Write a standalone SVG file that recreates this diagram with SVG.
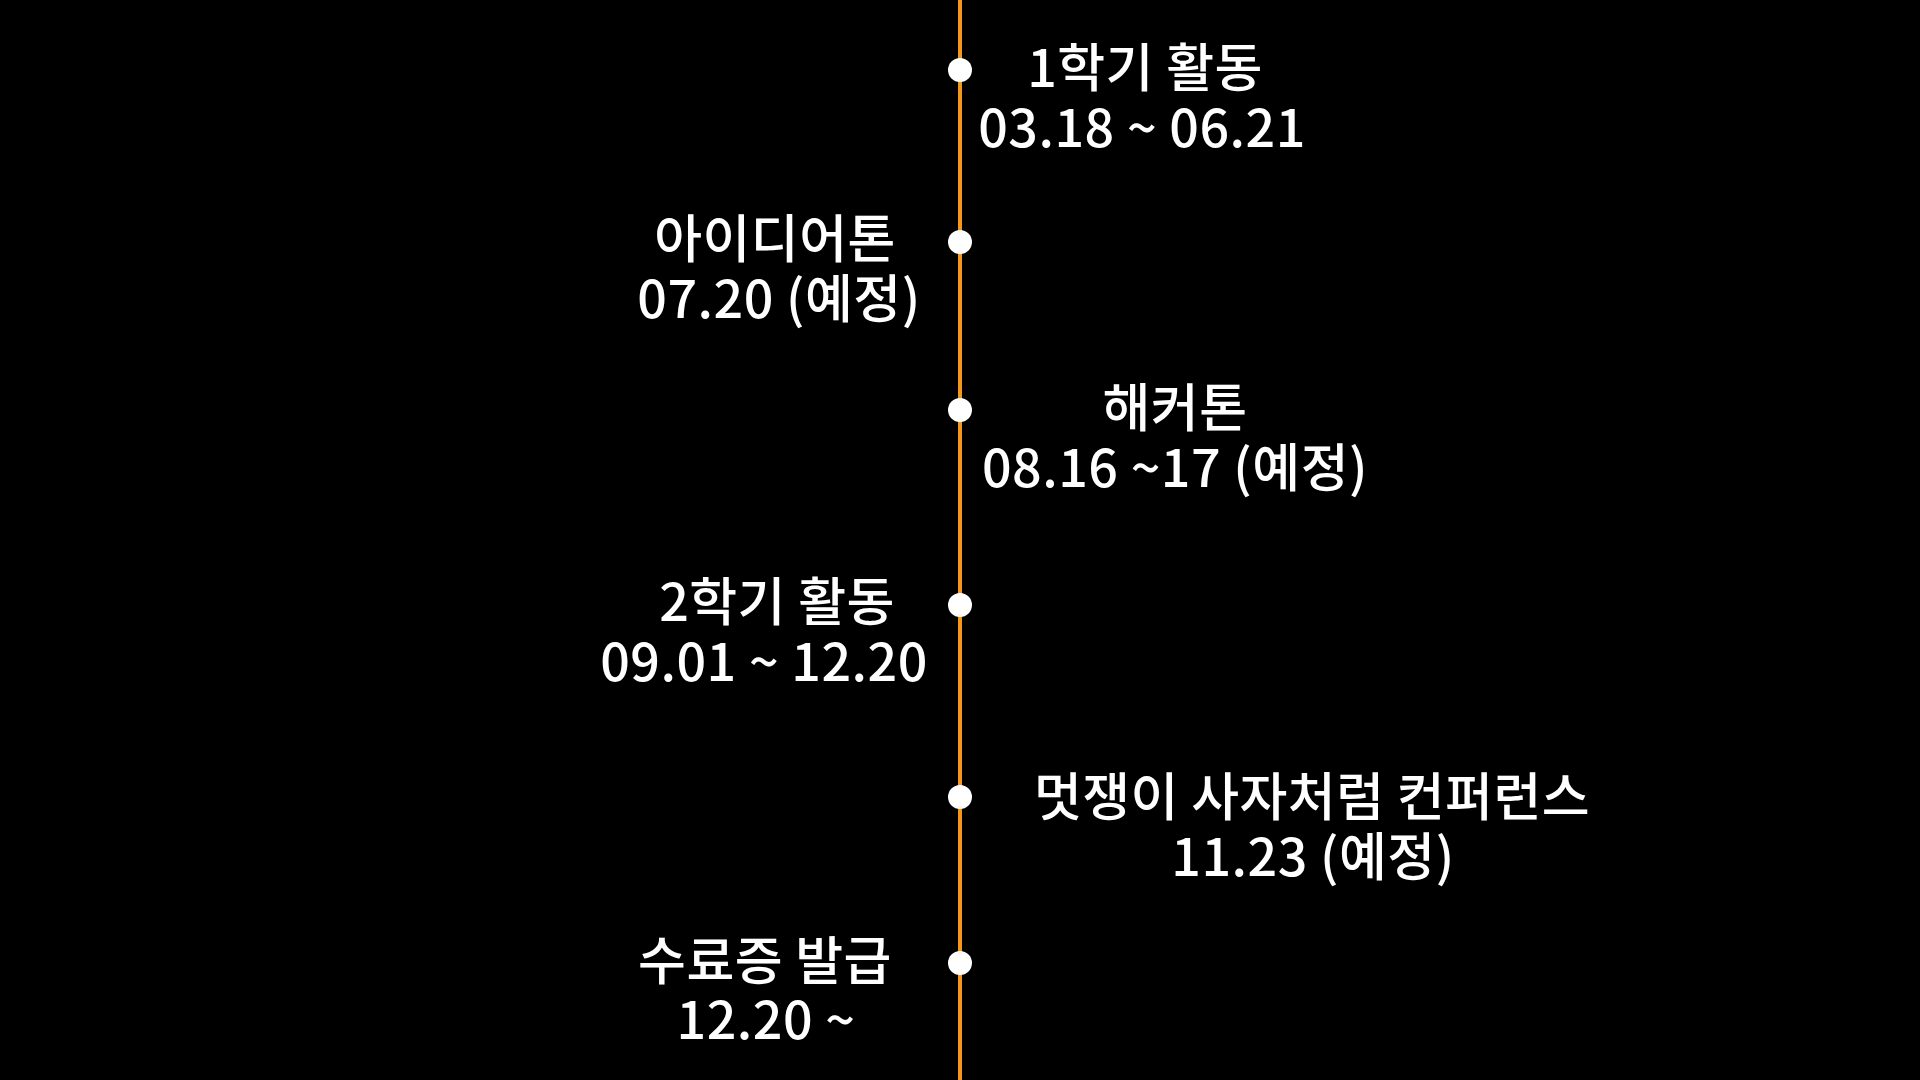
<svg xmlns="http://www.w3.org/2000/svg" width="1920" height="1080" viewBox="0 0 1920 1080">
<style>
.lbl{font-family:"Noto Sans CJK KR","Noto Sans",sans-serif;font-size:52px;fill:#ffffff;text-anchor:middle;font-weight:500;letter-spacing:0.5px}
.dot{fill:#ffffff}
.axis{stroke:#F5961E;stroke-width:4;fill:none}
</style>
<rect x="0" y="0" width="1920" height="1080" fill="#000000"/>
<g id="connectors">
<line class="axis" x1="960" y1="0" x2="960" y2="1080"/>
</g>
<g id="node-1">
<circle class="dot" cx="960" cy="70" r="12"/>
<text class="lbl"><tspan x="1145" y="87">1학기 활동</tspan><tspan x="1142" y="147">03.18 ~ 06.21</tspan></text>
</g>
<g id="node-2">
<circle class="dot" cx="960" cy="242" r="12"/>
<text class="lbl"><tspan x="775" y="258">아이디어톤</tspan><tspan x="779" y="318">07.20 (예정)</tspan></text>
</g>
<g id="node-3">
<circle class="dot" cx="960" cy="410" r="12"/>
<text class="lbl"><tspan x="1175" y="427">해커톤</tspan><tspan x="1175" y="487">08.16 ~17 (예정)</tspan></text>
</g>
<g id="node-4">
<circle class="dot" cx="960" cy="605" r="12"/>
<text class="lbl"><tspan x="777" y="621">2학기 활동</tspan><tspan x="764" y="681">09.01 ~ 12.20</tspan></text>
</g>
<g id="node-5">
<circle class="dot" cx="960" cy="797" r="12"/>
<text class="lbl"><tspan x="1312" y="816">멋쟁이 사자처럼 컨퍼런스</tspan><tspan x="1313" y="876">11.23 (예정)</tspan></text>
</g>
<g id="node-6">
<circle class="dot" cx="960" cy="963" r="12"/>
<text class="lbl"><tspan x="765" y="980">수료증 발급</tspan><tspan x="766" y="1039">12.20 ~</tspan></text>
</g>
</svg>
